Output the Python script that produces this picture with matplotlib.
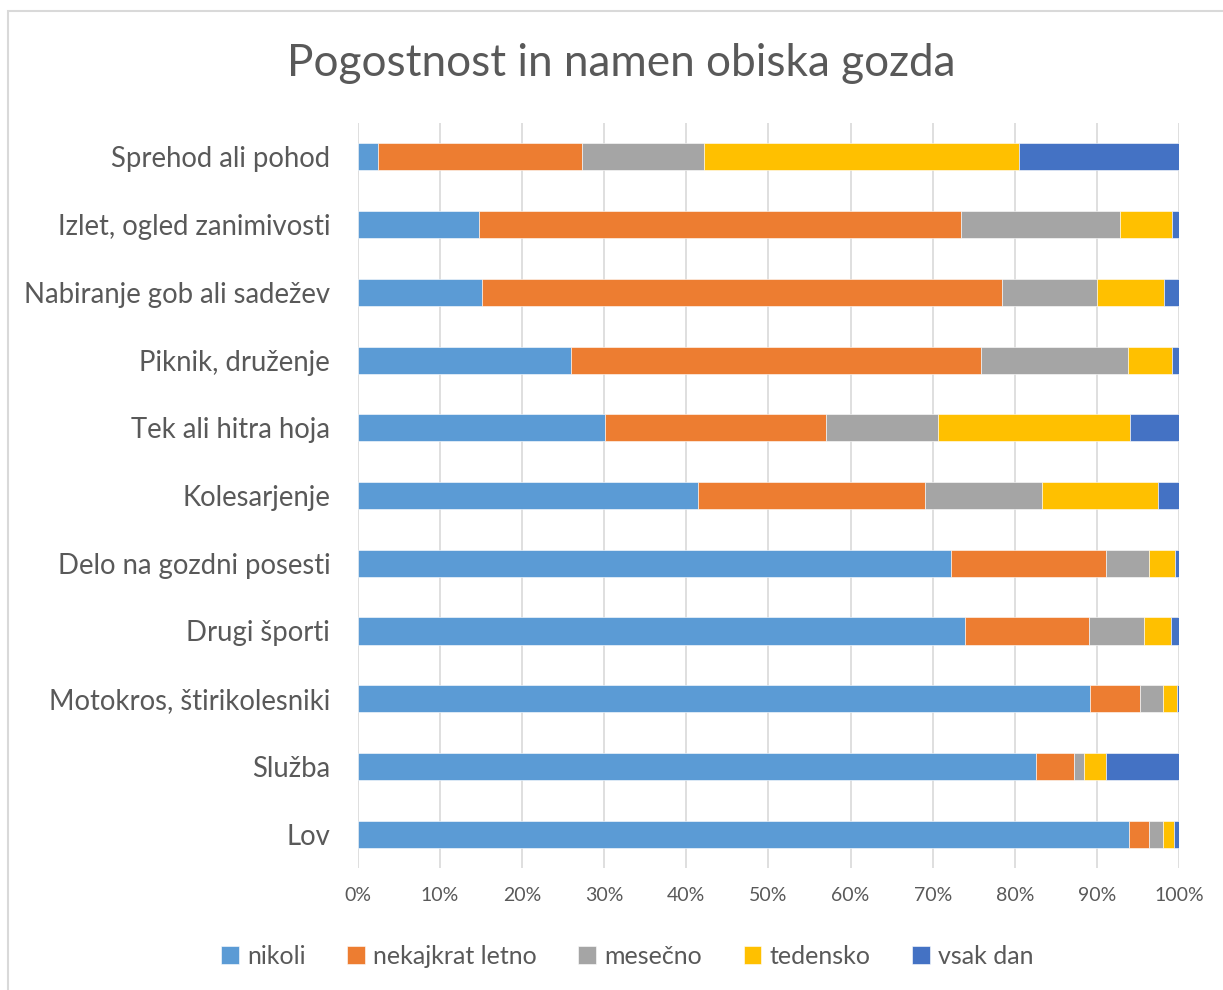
import numpy as np
import matplotlib
matplotlib.use("Agg")
import matplotlib.pyplot as plt
from matplotlib.patches import Rectangle
from matplotlib.ticker import PercentFormatter

# categories from top to bottom
categories = ["Sprehod ali pohod", "Izlet, ogled zanimivosti", "Nabiranje gob ali sadežev",
              "Piknik, druženje", "Tek ali hitra hoja", "Kolesarjenje",
              "Delo na gozdni posesti", "Drugi športi", "Motokros, štirikolesniki",
              "Služba", "Lov"]

series_names = ["nikoli", "nekajkrat letno", "mesečno", "tedensko", "vsak dan"]

nikoli = [2.5, 14.8, 15.1, 26.0, 30.1, 41.4, 72.2, 73.9, 89.2, 82.6, 94.0]
nekajkrat = [24.8, 58.7, 63.3, 49.9, 26.8, 27.7, 18.9, 15.2, 6.1, 4.6, 2.5]
mesecno = [14.9, 19.3, 11.6, 17.9, 13.7, 14.2, 5.3, 6.7, 2.7, 1.2, 1.6]
tedensko = [38.4, 6.4, 8.2, 5.3, 23.4, 14.1, 3.1, 3.2, 1.7, 2.7, 1.4]
vsak_dan = [19.5, 0.8, 1.8, 0.9, 5.9, 2.6, 0.5, 1.0, 0.3, 8.9, 0.6]

colors = ["#5B9BD5", "#ED7D31", "#A5A5A5", "#FFC000", "#4472C4"]
text_color = "#595959"

plt.rcParams['font.family'] = ['Lato', 'DejaVu Sans']

data = np.array([nikoli, nekajkrat, mesecno, tedensko, vsak_dan])
# normalise each row to 100 %
data = data / data.sum(axis=0) * 100

fig = plt.figure(figsize=(12.23, 9.9), dpi=100)
ax = fig.add_axes([0.2927, 0.1232, 0.6713, 0.7525])

y = np.arange(len(categories))
left = np.zeros(len(categories))
for vals, name, c in zip(data, series_names, colors):
    ax.barh(y, vals, left=left, height=0.4, color=c, label=name,
            edgecolor='white', linewidth=0.4, zorder=3)
    left += vals

ax.set_xlim(0, 100)
ax.set_ylim(len(categories) - 0.5, -0.5)
ax.set_xticks(np.arange(0, 101, 10))
ax.xaxis.set_major_formatter(PercentFormatter(decimals=0))
ax.set_yticks(y)
ax.set_yticklabels(categories)
ax.grid(axis='x', color='#D9D9D9', linewidth=1.2, zorder=0)
for s in ax.spines.values():
    s.set_visible(False)
ax.tick_params(axis='both', length=0, colors=text_color)
ax.tick_params(axis='y', labelsize=19.8, pad=20)
ax.tick_params(axis='x', labelsize=14, pad=14)

fig.text(0.508, 0.936, "Pogostnost in namen obiska gozda", ha='center', va='center',
         fontsize=31.8, color=text_color)

fig.legend(loc='center', bbox_to_anchor=(0.513, 0.034), ncol=5, frameon=False,
           fontsize=18, labelcolor=text_color, handlelength=0.7, handleheight=0.7,
           handletextpad=0.35, columnspacing=1.65)

# chart area border (only left and top are inside the picture)
fig.patches.append(Rectangle((8 / 1223, -0.05), 1.2, (990 - 11) / 990 + 0.05,
                             transform=fig.transFigure, fill=False,
                             edgecolor='#D9D9D9', linewidth=1.5))

plt.savefig('out.png', dpi=100)
